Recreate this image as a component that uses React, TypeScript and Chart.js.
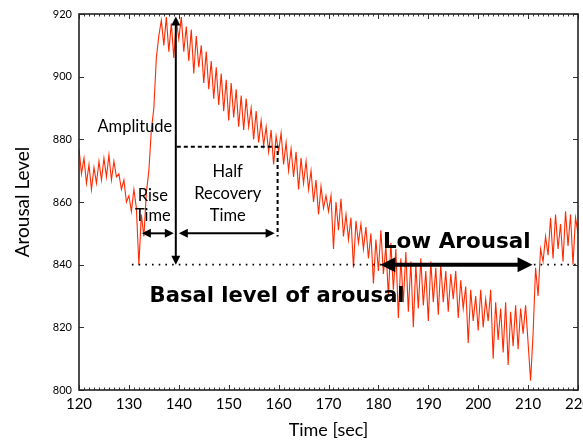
import React, { useEffect, useRef } from "react";
import { Chart, registerables } from "chart.js";
Chart.register(...registerables);

// Sampled arousal signal, one value every 0.5 s starting at 120 s
const sampleStart = 120;
const sampleStep = 0.5;
const arousal = [
  877, 869, 874, 866, 872, 864, 871, 866, 873, 867,
  874, 868, 875, 867, 873, 868, 869, 864, 867, 860,
  862, 857, 864, 858, 840, 856, 849, 863, 870, 883,
  890, 906, 913, 918, 910, 919, 908, 917, 906, 918,
  912, 919, 908, 916, 905, 915, 901, 913, 903, 910,
  898, 908, 896, 905, 893, 903, 891, 901, 889, 899,
  886, 898, 887, 896, 884, 894, 883, 893, 884, 890,
  880, 889, 879, 886, 878, 884, 876, 883, 872, 881,
  876, 882, 872, 879, 870, 877, 868, 876, 864, 874,
  866, 873, 864, 870, 860, 867, 856, 865, 858, 862,
  857, 862, 845, 860, 851, 861, 849, 856, 848, 855,
  839, 854, 847, 853, 845, 852, 842, 850, 834, 848,
  838, 851, 837, 846, 830, 847, 832, 845, 823, 842,
  828, 844, 825, 841, 820, 840, 826, 842, 827, 838,
  822, 841, 828, 839, 824, 840, 828, 838, 825, 837,
  829, 838, 823, 835, 826, 833, 815, 832, 822, 830,
  819, 832, 820, 829, 822, 832, 810, 828, 816, 826,
  812, 828, 808, 825, 814, 827, 813, 826, 818, 827,
  815, 803, 818, 839, 830, 845, 841, 849, 843, 855,
  842, 856, 845, 853, 841, 857, 846, 856, 840, 855,
  850,
];
const times = arousal.map((_, i) => sampleStart + i * sampleStep);

const xTicks = [120, 130, 140, 150, 160, 170, 180, 190, 200, 210, 220];
const yTicks = [800, 820, 840, 860, 880, 900, 920];

// Annotation values (data units)
const basalLevel = 840;
const basalStart = 130.6;
const peakTime = 139.4;
const peakLevel = 919.2;
const riseStart = 132.6;
const riseEnd = 139.0;
const timeArrowLevel = 850;
const recoveryStart = 140.0;
const recoveryEnd = 159.2;
const halfLevel = 877.6;
const halfTime = 159.8;
const halfBottom = 849;
const lowStart = 180.4;
const lowEnd = 210.9;

const FONT = 'Lato, "Open Sans", sans-serif';
const BOLD_FONT = '"DejaVu Sans", Lato, sans-serif';

function arrowHead(ctx: CanvasRenderingContext2D, tx: number, ty: number, dx: number, dy: number, len: number, hw: number) {
  const bx = tx - dx * len;
  const by = ty - dy * len;
  const px = -dy, py = dx;
  ctx.beginPath();
  ctx.moveTo(tx, ty);
  ctx.lineTo(bx + px * hw, by + py * hw);
  ctx.lineTo(bx - px * hw, by - py * hw);
  ctx.closePath();
  ctx.fill();
}

function doubleArrow(ctx: CanvasRenderingContext2D, x1: number, y1: number, x2: number, y2: number, lw: number, len: number, hw: number) {
  const L = Math.hypot(x2 - x1, y2 - y1);
  const dx = (x2 - x1) / L, dy = (y2 - y1) / L;
  ctx.lineWidth = lw;
  ctx.setLineDash([]);
  ctx.beginPath();
  ctx.moveTo(x1 + dx * (len - 1), y1 + dy * (len - 1));
  ctx.lineTo(x2 - dx * (len - 1), y2 - dy * (len - 1));
  ctx.stroke();
  arrowHead(ctx, x2, y2, dx, dy, len, hw);
  arrowHead(ctx, x1, y1, -dx, -dy, len, hw);
}

function fitText(ctx: CanvasRenderingContext2D, text: string, cx: number, cy: number, x0: number, x1: number) {
  const w = ctx.measureText(text).width;
  const target = x1 - x0;
  ctx.save();
  ctx.translate(cx, cy);
  ctx.scale(target / w, 1);
  ctx.fillText(text, 0, 0);
  ctx.restore();
}

const annotationPlugin = {
  id: "annotations",
  afterDatasetsDraw(chart: any) {
    const ctx: CanvasRenderingContext2D = chart.ctx;
    const xs = chart.scales.x, ys = chart.scales.y;
    const X = (v: number) => xs.getPixelForValue(v);
    const Y = (v: number) => ys.getPixelForValue(v);
    ctx.save();
    ctx.strokeStyle = "#000";
    ctx.fillStyle = "#000";

    // basal dotted line
    ctx.lineWidth = 1.6;
    ctx.setLineDash([1.6, 5.1]);
    ctx.beginPath();
    ctx.moveTo(X(basalStart), Y(basalLevel));
    ctx.lineTo(X(220), Y(basalLevel));
    ctx.stroke();

    // dashed half-recovery box
    ctx.lineWidth = 2;
    ctx.setLineDash([4, 3]);
    ctx.beginPath();
    ctx.moveTo(X(peakTime) + 1, Y(halfLevel));
    ctx.lineTo(X(halfTime), Y(halfLevel));
    ctx.lineTo(X(halfTime), Y(halfBottom));
    ctx.stroke();

    doubleArrow(ctx, X(peakTime), Y(basalLevel), X(peakTime), Y(peakLevel), 2, 9, 4.5);
    doubleArrow(ctx, X(riseStart), Y(timeArrowLevel), X(riseEnd), Y(timeArrowLevel), 2, 9, 4.5);
    doubleArrow(ctx, X(recoveryStart), Y(timeArrowLevel), X(recoveryEnd), Y(timeArrowLevel), 2, 9, 4.5);
    doubleArrow(ctx, X(lowStart), Y(basalLevel), X(lowEnd), Y(basalLevel), 4, 15, 7.5);

    ctx.textAlign = "center";
    ctx.textBaseline = "middle";
    ctx.font = `16.5px ${FONT}`;
    ctx.fillText("Amplitude", X(131.2), Y(883.9));
    ctx.fillText("Rise", X(134.8), Y(861.9));
    ctx.fillText("Time", X(134.8), Y(855.5));
    ctx.fillText("Half", X(149.8), Y(869.6));
    ctx.fillText("Recovery", X(149.8), Y(862.5));
    ctx.fillText("Time", X(149.8), Y(855.5));

    ctx.font = `bold 21px ${BOLD_FONT}`;
    fitText(ctx, "Basal level of arousal", X(159.7), Y(829.7), X(134.4), X(185.5));
    fitText(ctx, "Low Arousal", X(195.7), Y(846.9), X(180.9), X(210.5));
    ctx.restore();
  },
  afterDraw(chart: any) {
    const ctx: CanvasRenderingContext2D = chart.ctx;
    const { left, right, top, bottom } = chart.chartArea;
    const xs = chart.scales.x, ys = chart.scales.y;
    ctx.save();
    ctx.strokeStyle = "#333";
    ctx.setLineDash([]);
    ctx.lineWidth = 1;
    ctx.beginPath();
    for (let v = 120; v <= 220; v += 1) {
      const x = Math.round(xs.getPixelForValue(v)) + 0.5;
      const major = v % 10 === 0;
      const l = major ? 5 : 2.5;
      ctx.moveTo(x, bottom); ctx.lineTo(x, bottom - l);
      ctx.moveTo(x, top); ctx.lineTo(x, top + l);
    }
    for (const v of yTicks) {
      const y = Math.round(ys.getPixelForValue(v)) + 0.5;
      ctx.moveTo(left, y); ctx.lineTo(left + 5, y);
      ctx.moveTo(right, y); ctx.lineTo(right - 5, y);
    }
    ctx.stroke();
    ctx.lineWidth = 1.6;
    ctx.strokeStyle = "#222";
    ctx.strokeRect(left, top, right - left, bottom - top);
    ctx.restore();
  },
};

export default function App() {
  const ref = useRef<HTMLCanvasElement | null>(null);
  useEffect(() => {
    if (!ref.current) return;
    const chart = new Chart(ref.current, {
      type: "line",
      data: {
        datasets: [
          {
            data: times.map((t, i) => ({ x: t, y: arousal[i] })),
            borderColor: "#ff2a00",
            borderWidth: 1.1,
            pointRadius: 0,
            tension: 0,
            fill: false,
          },
        ],
      },
      options: {
        animation: false,
        responsive: false,
        maintainAspectRatio: false,
        layout: { padding: { left: 0, right: 5, top: 14, bottom: 0 } },
        plugins: { legend: { display: false }, tooltip: { enabled: false } },
        scales: {
          x: {
            type: "linear",
            min: 120,
            max: 220,
            afterBuildTicks: (s: any) => { s.ticks = xTicks.map((v) => ({ value: v })); },
            afterFit: (s: any) => { s.height = 52; s.paddingLeft = 0; s.paddingRight = 0; },
            grid: { display: false, drawTicks: false },
            border: { display: false },
            ticks: { color: "#000", font: { family: FONT, size: 15 }, padding: 5, maxRotation: 0, autoSkip: false },
            title: { display: true, text: "Time [sec]", color: "#000", font: { family: FONT, size: 18 }, padding: { top: 0, bottom: 1 } },
          },
          y: {
            type: "linear",
            min: 800,
            max: 920,
            afterBuildTicks: (s: any) => { s.ticks = yTicks.map((v) => ({ value: v })); },
            afterFit: (s: any) => { s.width = 79; s.paddingTop = 0; s.paddingBottom = 0; },
            grid: { display: false, drawTicks: false },
            border: { display: false },
            ticks: { color: "#000", font: { family: FONT, size: 11 }, padding: 7 },
            title: { display: true, text: "Arousal Level", color: "#000", font: { family: FONT, size: 19 }, padding: { top: 11, bottom: 0 } },
          },
        },
      },
      plugins: [annotationPlugin],
    });
    return () => chart.destroy();
  }, []);
  return (
    <div style={{ position: "fixed", left: 0, top: 0, width: 583, height: 442, background: "#fff" }}>
      <canvas ref={ref} width={583} height={442} style={{ width: 583, height: 442, display: "block" }} />
    </div>
  );
}
